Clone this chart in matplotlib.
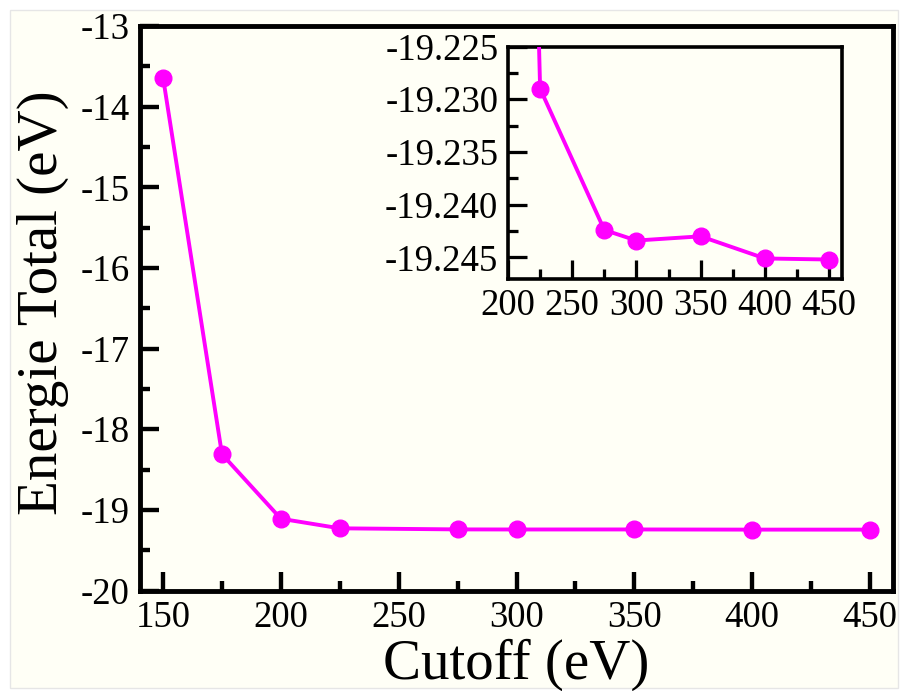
import matplotlib
matplotlib.use("Agg")
import matplotlib.pyplot as plt
from matplotlib.patches import Rectangle
from matplotlib.ticker import MultipleLocator, FormatStrFormatter

# Cutoff convergence: total energy vs plane-wave cutoff
cutoff = [150, 175, 200, 225, 275, 300, 350, 400, 450]
energy = [-13.64, -18.31, -19.11, -19.229, -19.2424, -19.2434, -19.2430, -19.2451, -19.2452]

plt.rcParams['font.family'] = ['Liberation Serif', 'DejaVu Serif']
plt.rcParams['axes.unicode_minus'] = False

line_color = '#ff00ff'
bg = '#fffff6'

fig = plt.figure(figsize=(9.04, 6.91), dpi=100)
fig.patch.set_facecolor('white')
# page panel behind the plot
fig.patches.append(Rectangle((10 / 904, 1 - 688 / 691), 888 / 904, 678 / 691,
                             transform=fig.transFigure, facecolor=bg,
                             edgecolor='#e6e6e6', linewidth=1.0, zorder=-10))


def style_axes(ax, spine_w, major_len, minor_len, fs, pad):
    for s in ax.spines.values():
        s.set_linewidth(spine_w)
    ax.tick_params(which='major', direction='in', length=major_len, width=spine_w * 0.9,
                   labelsize=fs, pad=pad, top=False, right=False)
    ax.tick_params(which='minor', direction='in', length=minor_len, width=spine_w * 0.9,
                   top=False, right=False)
    ax.set_facecolor(bg)


# main panel
ax = fig.add_axes([139.5 / 904, 1 - 590.5 / 691, 754 / 904, 564.5 / 691])
ax.plot(cutoff, energy, color=line_color, lw=2.8, marker='o', ms=12, zorder=3)
ax.set_xlim(140, 460)
ax.set_ylim(-20, -13)
ax.xaxis.set_major_locator(MultipleLocator(50))
ax.xaxis.set_minor_locator(MultipleLocator(25))
ax.yaxis.set_major_locator(MultipleLocator(1))
ax.yaxis.set_minor_locator(MultipleLocator(0.5))
style_axes(ax, 3.5, 14, 7.5, 26.5, 7)
ax.set_xlabel('Cutoff (eV)', fontsize=41, labelpad=3)
ax.set_ylabel('Energie Total (eV)', fontsize=41, labelpad=8)
ax.yaxis.label.set_y(0.51)

# inset zoom on the converged region
ins = fig.add_axes([508 / 904, 1 - 278.5 / 691, 334 / 904, 232 / 691])
ins.plot(cutoff, energy, color=line_color, lw=2.8, marker='o', ms=12, zorder=3)
ins.set_xlim(200, 460)
ins.set_ylim(-19.247, -19.225)
ins.xaxis.set_major_locator(MultipleLocator(50))
ins.xaxis.set_minor_locator(MultipleLocator(25))
ins.yaxis.set_major_locator(MultipleLocator(0.005))
ins.yaxis.set_minor_locator(MultipleLocator(0.0025))
ins.yaxis.set_major_formatter(FormatStrFormatter('%.3f'))
style_axes(ins, 2.6, 14, 7.5, 26.5, 7)

fig.savefig('out.png', dpi=100, facecolor='white')
